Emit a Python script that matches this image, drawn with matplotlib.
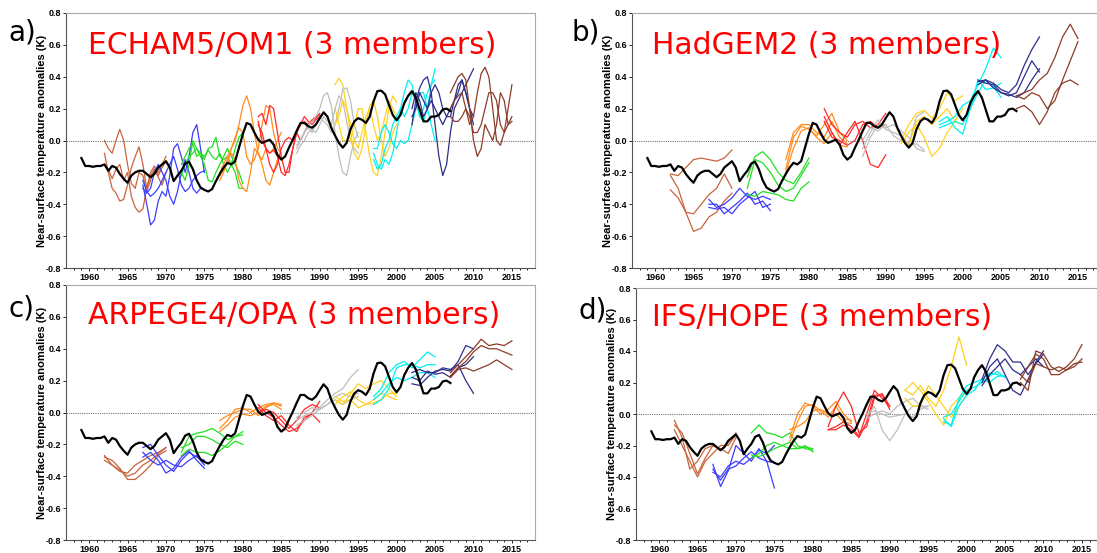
import numpy as np
import matplotlib.pyplot as plt

plt.rcParams['axes.unicode_minus'] = False

# observed near-surface temperature anomalies (K), half-yearly 1959-2007
obs_start, obs_end = 1959, 2007
obs = [-0.11, -0.16, -0.16, -0.165, -0.16, -0.16, -0.15, -0.19, -0.16, -0.17,
       -0.21, -0.24, -0.265, -0.22, -0.20, -0.19, -0.19, -0.21, -0.23, -0.21,
       -0.17, -0.15, -0.13, -0.17, -0.255, -0.22, -0.19, -0.145, -0.133, -0.18,
       -0.25, -0.295, -0.31, -0.32, -0.305, -0.255, -0.21, -0.17, -0.14, -0.15,
       -0.13, -0.045, 0.04, 0.11, 0.10, 0.05, 0.005, -0.015, -0.005, 0.005,
       -0.025, -0.09, -0.12, -0.10, -0.045, 0.005, 0.06, 0.11, 0.11, 0.09,
       0.08, 0.10, 0.14, 0.177, 0.15, 0.08, 0.03, -0.015, -0.045, -0.015,
       0.07, 0.12, 0.14, 0.13, 0.11, 0.15, 0.245, 0.31, 0.313, 0.29,
       0.225, 0.16, 0.127, 0.16, 0.235, 0.28, 0.31, 0.27, 0.195, 0.12,
       0.12, 0.15, 0.15, 0.16, 0.195, 0.20, 0.185]

start_years = [1962, 1967, 1972, 1977, 1982, 1987, 1992, 1997, 2002, 2007]
run_length = 8
colors = ['#C8643C', '#3C3CFF', '#22E022', '#FF8C1E', '#FF2828',
          '#BEBEBE', '#FFD21E', '#00F0F0', '#2D2D8C', '#8C3C28']

x_ticks = [1960, 1965, 1970, 1975, 1980, 1985, 1990, 1995, 2000, 2005, 2010, 2015]
y_ticks = [-0.8, -0.6, -0.4, -0.2, 0.0, 0.2, 0.4, 0.6, 0.8]
y_tick_labels = ['-0.8', '-0.6', '-0.4', '-0.2', '0.0', '0.2', '0.4', '0.6', '0.8']

# a) ECHAM5/OM1, half-yearly
echam_1962 = [[0.0, -0.05, -0.08, 0.0, 0.07, 0.0, -0.15, -0.27, -0.3, -0.2, -0.22, -0.32, -0.25, -0.18, -0.2, -0.15, -0.1],
              [-0.08, -0.2, -0.3, -0.33, -0.38, -0.37, -0.28, -0.17, -0.1, -0.04, -0.15, -0.3, -0.22, -0.18, -0.23, -0.28, -0.2],
              [-0.15, -0.18, -0.24, -0.18, -0.15, -0.25, -0.2, -0.35, -0.42, -0.45, -0.43, -0.3, -0.2, -0.16, -0.22, -0.17, -0.13]]
echam_1967 = [[-0.28, -0.4, -0.53, -0.5, -0.38, -0.32, -0.35, -0.22, -0.05, -0.02, -0.1, -0.2, -0.1, 0.05, 0.1, -0.05, -0.2],
              [-0.3, -0.33, -0.3, -0.2, -0.15, -0.2, -0.25, -0.35, -0.4, -0.32, -0.2, -0.12, -0.2, -0.3, -0.33, -0.3, -0.31],
              [-0.25, -0.32, -0.35, -0.33, -0.3, -0.25, -0.2, -0.15, -0.1, -0.18, -0.28, -0.32, -0.3, -0.25, -0.22, -0.2, -0.19]]
echam_1972 = [[-0.15, -0.1, -0.05, -0.02, -0.1, -0.08, -0.12, -0.05, -0.04, 0.02, -0.1, -0.12, -0.1, -0.15, -0.2, -0.3, -0.3],
              [-0.22, -0.15, -0.1, -0.08, -0.05, -0.1, -0.15, -0.25, -0.26, -0.2, -0.15, -0.1, -0.05, -0.1, -0.15, -0.2, -0.27],
              [-0.2, -0.25, -0.15, 0.0, -0.05, -0.08, -0.1, -0.06, -0.1, -0.12, -0.08, -0.15, -0.2, -0.15, -0.05, 0.02, 0.05]]
echam_1977 = [[-0.2, -0.15, -0.1, -0.05, 0.02, 0.08, 0.05, -0.1, -0.15, -0.12, -0.05, 0.1, 0.22, 0.2, 0.05, -0.05, -0.08],
              [-0.25, -0.2, -0.12, -0.08, -0.12, -0.25, -0.3, -0.32, -0.2, -0.05, -0.08, -0.15, -0.25, -0.28, -0.2, -0.12, -0.1],
              [-0.22, -0.18, -0.15, -0.05, 0.0, 0.1, 0.22, 0.28, 0.2, 0.05, -0.08, -0.12, -0.05, -0.08, -0.05, 0.0, 0.05]]
echam_1982 = [[0.15, 0.17, 0.1, 0.22, 0.2, 0.05, -0.1, -0.2, -0.2, -0.05, 0.05, 0.1, 0.12, 0.1, 0.13, 0.15, 0.16],
              [0.12, 0.0, -0.05, -0.15, -0.2, -0.15, -0.05, 0.0, 0.02, 0.0, 0.05, 0.1, 0.15, 0.12, 0.1, 0.13, 0.15],
              [0.1, 0.05, -0.05, -0.08, -0.06, -0.1, -0.2, -0.22, -0.15, -0.05, 0.05, 0.0, 0.05, 0.1, 0.12, 0.14, 0.17]]
echam_1987 = [[-0.05, 0.0, 0.05, 0.1, 0.12, 0.15, 0.2, 0.28, 0.3, 0.22, 0.05, -0.1, -0.2, -0.22, -0.1, 0.0, 0.05],
              [-0.08, -0.03, 0.0, 0.05, 0.07, 0.05, 0.1, 0.15, 0.12, 0.1, 0.2, 0.28, 0.25, 0.12, 0.0, -0.05, -0.08],
              [-0.03, 0.0, 0.05, 0.08, 0.05, 0.1, 0.15, 0.12, 0.1, 0.05, 0.1, 0.2, 0.32, 0.33, 0.25, 0.1, 0.02]]
echam_1992 = [[0.35, 0.39, 0.35, 0.2, 0.05, -0.08, -0.12, -0.05, 0.1, 0.22, 0.25, 0.15, 0.0, -0.1, -0.05, 0.05, 0.1],
              [0.2, 0.1, 0.0, 0.0, 0.0, 0.1, 0.2, 0.2, 0.05, -0.1, -0.2, -0.22, -0.1, 0.05, 0.2, 0.28, 0.24],
              [0.1, 0.15, 0.25, 0.2, 0.1, 0.0, -0.05, 0.05, 0.15, 0.2, 0.1, 0.0, 0.05, 0.15, 0.25, 0.2, 0.15]]
echam_1997 = [[-0.08, -0.15, -0.18, -0.12, -0.15, -0.08, 0.05, 0.2, 0.3, 0.38, 0.35, 0.25, 0.15, 0.12, 0.2, 0.35, 0.45],
              [-0.05, -0.05, 0.05, 0.1, 0.05, -0.02, -0.05, 0.0, -0.02, 0.0, 0.1, 0.2, 0.3, 0.3, 0.2, 0.1, 0.0],
              [-0.12, -0.18, -0.15, -0.05, 0.0, 0.1, 0.15, 0.2, 0.15, 0.2, 0.3, 0.25, 0.15, 0.2, 0.3, 0.35, 0.38]]
echam_2002 = [[0.1, 0.25, 0.33, 0.38, 0.4, 0.3, 0.1, -0.1, -0.22, -0.15, 0.05, 0.2, 0.25, 0.3, 0.35, 0.4, 0.45],
              [0.2, 0.3, 0.25, 0.15, 0.2, 0.3, 0.35, 0.3, 0.2, 0.15, 0.15, 0.25, 0.35, 0.38, 0.3, 0.2, 0.1],
              [0.15, 0.2, 0.3, 0.25, 0.2, 0.25, 0.2, 0.15, 0.1, 0.15, 0.2, 0.25, 0.3, 0.38, 0.3, 0.2, 0.15]]
echam_2007 = [[0.3, 0.35, 0.4, 0.42, 0.38, 0.2, 0.0, -0.1, -0.05, 0.1, 0.05, 0.0, 0.1, 0.3, 0.25, 0.1, 0.15],
              [0.2, 0.25, 0.28, 0.3, 0.2, 0.1, 0.15, 0.3, 0.42, 0.46, 0.4, 0.2, 0.0, -0.03, 0.05, 0.2, 0.35],
              [0.15, 0.12, 0.12, 0.15, 0.2, 0.15, 0.05, 0.05, 0.1, 0.2, 0.3, 0.3, 0.25, 0.1, 0.05, 0.1, 0.12]]

# b) HadGEM2, yearly
hadgem_1962 = [[-0.21, -0.22, -0.17, -0.12, -0.11, -0.12, -0.13, -0.11, -0.06],
               [-0.31, -0.36, -0.45, -0.46, -0.40, -0.34, -0.30, -0.21, -0.30],
               [-0.22, -0.30, -0.45, -0.57, -0.55, -0.48, -0.45, -0.38, -0.33]]
hadgem_1967 = [[-0.37, -0.42, -0.40, -0.36, -0.30, -0.35, -0.37, -0.35, -0.37],
               [-0.40, -0.40, -0.46, -0.42, -0.38, -0.33, -0.40, -0.38, -0.44],
               [-0.42, -0.43, -0.42, -0.46, -0.40, -0.36, -0.32, -0.42, -0.40]]
hadgem_1972 = [[-0.23, -0.10, -0.07, -0.12, -0.20, -0.25, -0.27, -0.20, -0.11],
               [-0.30, -0.12, -0.14, -0.20, -0.28, -0.32, -0.30, -0.22, -0.14],
               [-0.34, -0.35, -0.32, -0.33, -0.34, -0.37, -0.38, -0.30, -0.26]]
hadgem_1977 = [[-0.18, 0.02, 0.09, 0.07, 0.03, 0.10, 0.17, 0.05, 0.00],
               [-0.12, 0.05, 0.10, 0.10, 0.05, 0.02, 0.12, 0.02, -0.02],
               [-0.20, -0.05, 0.06, 0.08, 0.02, -0.02, 0.05, -0.03, -0.04]]
hadgem_1982 = [[0.20, 0.10, 0.05, 0.02, 0.10, 0.12, 0.08, 0.10, 0.17],
               [0.15, 0.05, -0.03, 0.05, 0.12, 0.00, -0.15, -0.17, -0.09],
               [0.12, 0.02, 0.00, -0.03, 0.00, 0.10, 0.12, 0.08, 0.10]]
hadgem_1987 = [[-0.10, 0.02, 0.10, 0.08, 0.10, 0.06, 0.02, -0.05, -0.07],
               [-0.05, 0.05, 0.13, 0.07, 0.05, 0.03, -0.02, 0.15, 0.18],
               [0.00, 0.08, 0.06, 0.10, 0.03, 0.00, -0.03, -0.02, -0.06]]
hadgem_1992 = [[0.00, 0.10, 0.17, 0.19, 0.14, 0.20, 0.30, 0.25, 0.28],
               [-0.02, 0.05, 0.10, 0.02, -0.10, -0.05, 0.05, 0.12, 0.20],
               [0.02, -0.03, 0.12, 0.15, 0.10, 0.15, 0.20, 0.12, 0.10]]
hadgem_1997 = [[0.10, 0.12, 0.15, 0.22, 0.25, 0.35, 0.45, 0.58, 0.52],
               [0.08, 0.10, 0.12, 0.10, 0.20, 0.38, 0.32, 0.33, 0.36],
               [0.12, 0.15, 0.08, 0.04, 0.20, 0.30, 0.38, 0.34, 0.27]]
hadgem_2002 = [[0.37, 0.38, 0.36, 0.32, 0.30, 0.35, 0.47, 0.57, 0.65],
               [0.38, 0.36, 0.35, 0.30, 0.28, 0.30, 0.40, 0.50, 0.43],
               [0.35, 0.38, 0.33, 0.30, 0.29, 0.27, 0.30, 0.38, 0.45]]
hadgem_2007 = [[0.28, 0.30, 0.32, 0.38, 0.42, 0.52, 0.65, 0.73, 0.64],
               [0.28, 0.26, 0.30, 0.28, 0.20, 0.25, 0.38, 0.50, 0.62],
               [0.20, 0.22, 0.18, 0.10, 0.18, 0.30, 0.36, 0.38, 0.35]]

# c) ARPEGE4/OPA, yearly
arpege_1962 = [[-0.27, -0.33, -0.37, -0.38, -0.33, -0.30, -0.27, -0.25, -0.22],
               [-0.28, -0.30, -0.35, -0.42, -0.42, -0.38, -0.33, -0.27, -0.24],
               [-0.30, -0.33, -0.36, -0.40, -0.38, -0.33, -0.30, -0.26, -0.22]]
arpege_1967 = [[-0.22, -0.20, -0.27, -0.33, -0.37, -0.30, -0.25, -0.28, -0.30],
               [-0.28, -0.25, -0.30, -0.38, -0.35, -0.28, -0.24, -0.30, -0.35],
               [-0.25, -0.30, -0.33, -0.30, -0.33, -0.34, -0.30, -0.27, -0.33]]
arpege_1972 = [[-0.25, -0.15, -0.13, -0.12, -0.10, -0.13, -0.17, -0.15, -0.12],
               [-0.22, -0.20, -0.15, -0.15, -0.17, -0.20, -0.22, -0.18, -0.20],
               [-0.27, -0.23, -0.25, -0.25, -0.27, -0.24, -0.20, -0.15, -0.14]]
arpege_1977 = [[-0.10, -0.05, 0.02, 0.03, 0.00, 0.03, 0.05, 0.06, 0.04],
               [-0.05, -0.02, 0.00, 0.02, 0.02, -0.02, 0.03, 0.06, 0.05],
               [-0.12, -0.08, -0.03, -0.01, -0.02, 0.00, 0.04, 0.05, 0.02]]
arpege_1982 = [[0.05, 0.00, -0.03, -0.08, -0.12, -0.10, -0.05, 0.00, 0.07],
               [0.03, -0.02, -0.05, -0.02, -0.08, -0.12, -0.03, -0.01, -0.06],
               [0.00, 0.02, 0.00, -0.05, -0.10, -0.05, 0.02, 0.05, 0.03]]
arpege_1987 = [[-0.05, -0.02, 0.00, 0.03, 0.08, 0.12, 0.15, 0.22, 0.27],
               [-0.08, -0.05, -0.02, 0.02, 0.05, 0.10, 0.12, 0.10, 0.12],
               [-0.03, 0.00, 0.03, 0.02, 0.05, 0.08, 0.05, 0.08, 0.10]]
arpege_1992 = [[0.08, 0.05, 0.12, 0.18, 0.15, 0.18, 0.20, 0.15, 0.10],
               [0.05, 0.10, 0.13, 0.08, 0.05, 0.08, 0.12, 0.10, 0.08],
               [0.10, 0.07, 0.08, 0.03, 0.05, 0.06, 0.08, 0.12, 0.12]]
arpege_1997 = [[0.10, 0.15, 0.25, 0.30, 0.32, 0.28, 0.33, 0.38, 0.35],
               [0.05, 0.08, 0.15, 0.28, 0.30, 0.30, 0.28, 0.30, 0.30],
               [0.08, 0.12, 0.18, 0.22, 0.20, 0.22, 0.25, 0.25, 0.22]]
arpege_2002 = [[0.18, 0.17, 0.22, 0.26, 0.27, 0.26, 0.32, 0.42, 0.40],
               [0.25, 0.27, 0.25, 0.25, 0.28, 0.27, 0.30, 0.20, 0.12],
               [0.22, 0.20, 0.26, 0.24, 0.25, 0.22, 0.28, 0.30, 0.35]]
arpege_2007 = [[0.25, 0.30, 0.35, 0.40, 0.46, 0.42, 0.43, 0.42, 0.45],
               [0.23, 0.28, 0.32, 0.38, 0.42, 0.40, 0.40, 0.38, 0.36],
               [0.22, 0.27, 0.28, 0.26, 0.28, 0.30, 0.33, 0.30, 0.27]]

# d) IFS/HOPE, yearly
ifs_1962 = [[-0.04, -0.15, -0.35, -0.30, -0.22, -0.20, -0.23, -0.18, -0.12],
            [-0.07, -0.12, -0.25, -0.38, -0.28, -0.20, -0.22, -0.25, -0.15],
            [-0.10, -0.20, -0.30, -0.40, -0.30, -0.25, -0.20, -0.20, -0.13]]
ifs_1967 = [[-0.32, -0.46, -0.36, -0.20, -0.25, -0.30, -0.22, -0.30, -0.47],
            [-0.37, -0.40, -0.33, -0.30, -0.32, -0.28, -0.23, -0.25, -0.20],
            [-0.35, -0.42, -0.35, -0.33, -0.28, -0.24, -0.28, -0.30, -0.31]]
ifs_1972 = [[-0.12, -0.07, -0.12, -0.13, -0.15, -0.12, -0.20, -0.22, -0.23],
            [-0.28, -0.25, -0.20, -0.18, -0.20, -0.18, -0.22, -0.20, -0.24],
            [-0.26, -0.27, -0.25, -0.22, -0.20, -0.22, -0.22, -0.21, -0.22]]
ifs_1977 = [[-0.15, 0.00, 0.07, 0.05, 0.00, 0.03, 0.08, 0.00, -0.05],
            [-0.18, -0.05, 0.05, 0.06, 0.02, -0.02, 0.05, -0.03, -0.04],
            [-0.10, -0.08, -0.05, 0.02, 0.03, 0.00, 0.00, -0.05, -0.06]]
ifs_1982 = [[-0.08, 0.05, 0.14, 0.05, -0.12, -0.08, 0.10, 0.13, 0.05],
            [-0.10, -0.08, -0.05, -0.08, -0.14, 0.00, 0.15, 0.10, 0.05],
            [-0.10, -0.10, -0.07, -0.10, -0.15, -0.05, 0.12, 0.12, 0.03]]
ifs_1987 = [[-0.02, 0.05, -0.10, -0.17, -0.10, 0.00, 0.05, 0.05, 0.05],
            [0.00, 0.02, 0.00, -0.02, -0.01, 0.00, -0.02, 0.03, 0.05],
            [-0.03, 0.00, 0.02, 0.00, 0.05, 0.08, 0.10, 0.05, 0.03]]
ifs_1992 = [[0.15, 0.12, 0.18, 0.10, 0.05, 0.15, 0.30, 0.49, 0.31],
            [0.15, 0.20, 0.15, 0.08, 0.00, -0.07, 0.05, 0.10, 0.15],
            [0.10, 0.05, 0.05, 0.18, 0.12, 0.05, -0.02, 0.05, 0.12]]
ifs_1997 = [[-0.05, -0.07, 0.10, 0.18, 0.20, 0.22, 0.26, 0.25, 0.24],
            [-0.02, 0.00, 0.08, 0.15, 0.17, 0.20, 0.24, 0.27, 0.23],
            [-0.03, -0.08, 0.05, 0.12, 0.15, 0.22, 0.20, 0.24, 0.24]]
ifs_2002 = [[0.22, 0.35, 0.44, 0.40, 0.33, 0.33, 0.25, 0.32, 0.38],
            [0.20, 0.30, 0.35, 0.25, 0.15, 0.12, 0.22, 0.33, 0.40],
            [0.18, 0.25, 0.30, 0.35, 0.28, 0.25, 0.30, 0.35, 0.30]]
ifs_2007 = [[0.20, 0.15, 0.40, 0.38, 0.30, 0.27, 0.30, 0.35, 0.44],
            [0.22, 0.30, 0.38, 0.35, 0.25, 0.25, 0.28, 0.30, 0.35],
            [0.25, 0.20, 0.32, 0.30, 0.28, 0.30, 0.28, 0.32, 0.33]]

echam = [echam_1962, echam_1967, echam_1972, echam_1977, echam_1982,
         echam_1987, echam_1992, echam_1997, echam_2002, echam_2007]
hadgem = [hadgem_1962, hadgem_1967, hadgem_1972, hadgem_1977, hadgem_1982,
          hadgem_1987, hadgem_1992, hadgem_1997, hadgem_2002, hadgem_2007]
arpege = [arpege_1962, arpege_1967, arpege_1972, arpege_1977, arpege_1982,
          arpege_1987, arpege_1992, arpege_1997, arpege_2002, arpege_2007]
ifs = [ifs_1962, ifs_1967, ifs_1972, ifs_1977, ifs_1982,
       ifs_1987, ifs_1992, ifs_1997, ifs_2002, ifs_2007]

W, H = 1097, 553
fig = plt.figure(figsize=(W / 100, H / 100), dpi=100)

# (runs, letter, title, frame l/t/r/b px, letter xy px, title xy px)
panels = [
    (echam, 'a)', 'ECHAM5/OM1 (3 members)', (66, 13, 535, 268), (8, 33), (88, 45)),
    (hadgem, 'b)', 'HadGEM2 (3 members)', (632, 13, 1101, 268), (572, 33), (652, 45)),
    (arpege, 'c)', 'ARPEGE4/OPA (3 members)', (66, 285, 535, 540), (8, 308), (88, 316)),
    (ifs, 'd)', 'IFS/HOPE (3 members)', (636, 288, 1105, 540), (578, 310), (652, 318)),
]

for runs, letter, title, (l, t, r, b), lxy, txy in panels:
    ax = fig.add_axes([l / W, 1 - b / H, (r - l) / W, (b - t) / H])
    ax.axhline(0, color='#777777', ls=(0, (1, 1)), lw=0.8, zorder=1)
    for sy, col, members in zip(start_years, colors, runs):
        for vals in members:
            x = np.linspace(sy, sy + run_length, len(vals))
            ax.plot(x, vals, color=col, lw=0.9, zorder=2)
    ax.plot(np.linspace(obs_start, obs_end, len(obs)), obs, color='black', lw=1.6, zorder=5)

    ax.set_xlim(1957, 2018)
    ax.set_ylim(-0.8, 0.8)
    ax.set_xticks(x_ticks)
    ax.set_xticks(range(1958, 2018), minor=True)
    ax.set_yticks(y_ticks)
    ax.set_yticklabels(y_tick_labels)
    ax.tick_params(which='both', direction='out', width=0.6, labelsize=6.5, pad=0.8)
    ax.tick_params(which='major', length=2.5)
    ax.tick_params(which='minor', length=1.5)
    for lab in ax.get_xticklabels() + ax.get_yticklabels():
        lab.set_fontweight('bold')
        lab.set_family('Liberation Sans')
    ax.set_ylabel('Near-surface temperature anomalies (K)', fontsize=8,
                  fontweight='bold', family='Liberation Sans', labelpad=-1)
    for side in ['top', 'right']:
        ax.spines[side].set_color('#AAAAAA')
    for side in ['left', 'bottom']:
        ax.spines[side].set_color('#555555')
    for sp in ax.spines.values():
        sp.set_linewidth(0.8)

    fig.text(lxy[0] / W, 1 - lxy[1] / H, letter, fontsize=20, va='center', ha='left')
    fig.text(txy[0] / W, 1 - txy[1] / H, title, fontsize=21.5, color='red',
             va='center', ha='left')

fig.savefig('out.png', dpi=100)
